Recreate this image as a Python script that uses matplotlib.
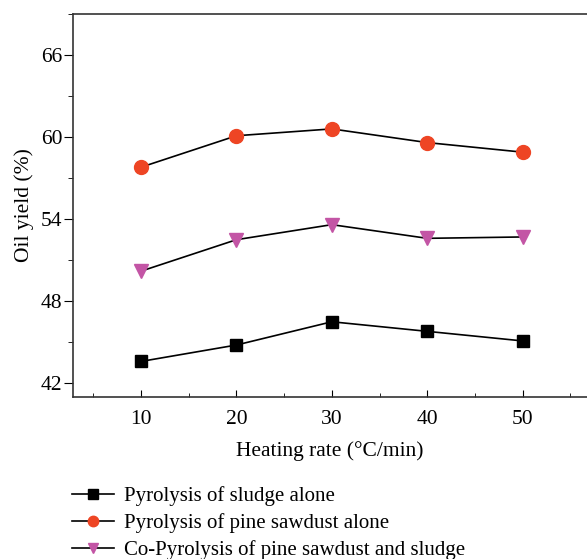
import matplotlib
matplotlib.use("Agg")
import matplotlib.pyplot as plt
from matplotlib.ticker import MultipleLocator

rates = [10, 20, 30, 40, 50]
sludge = [43.6, 44.8, 46.5, 45.8, 45.1]
pine = [57.8, 60.1, 60.6, 59.6, 58.9]
copyro = [50.2, 52.5, 53.6, 52.6, 52.7]
labels = ["Pyrolysis of sludge alone",
          "Pyrolysis of pine sawdust alone",
          "Co-Pyrolysis of pine sawdust and sludge"]
yticks = [42, 48, 54, 60, 66]
xticks = [10, 20, 30, 40, 50]

plt.rcParams['font.family'] = ['Liberation Serif', 'DejaVu Serif']

W, H = 587, 559
fig = plt.figure(figsize=(W / 100, H / 100), dpi=100)
ax = fig.add_axes([73 / W, 1 - 397 / H, (W - 73) / W, (397 - 14) / H])

ax.plot(rates, sludge, '-', color='black', lw=1.2, marker='s', ms=9,
        mfc='black', mec='black', label=labels[0])
ax.plot(rates, pine, '-', color='black', lw=1.2, marker='o', ms=10,
        mfc='#EE4524', mec='#EE4524', label=labels[1])
ax.plot(rates, copyro, '-', color='black', lw=1.2, marker='v', ms=10,
        mfc='#C355A5', mec='#C355A5', label=labels[2])

ax.set_xlim(2.87, 56.75)
ax.set_ylim(41, 69)
ax.set_xticks(xticks)
ax.set_yticks(yticks)
ax.xaxis.set_minor_locator(MultipleLocator(5))
ax.yaxis.set_minor_locator(MultipleLocator(3))
ax.tick_params(axis='x', which='both', direction='in', labelsize=15.5, pad=9)
ax.tick_params(axis='x', which='major', length=5)
ax.tick_params(axis='x', which='minor', length=3)
ax.tick_params(axis='y', which='both', direction='out', labelsize=15.5, pad=1)
ax.tick_params(axis='y', which='major', length=6.5)
ax.tick_params(axis='y', which='minor', length=3.4)
for s in ax.spines.values():
    s.set_linewidth(1.2)
    s.set_color('#333333')
ax.spines['right'].set_visible(False)

ax.set_xlabel("Heating rate (°C/min)", fontsize=15.5, labelpad=9)
ax.set_ylabel("Oil yield (%)", fontsize=15.5, labelpad=5)

leg = fig.legend(loc='upper left', bbox_to_anchor=(72 / W, 1 - 486 / H),
                 frameon=False, fontsize=15, handlelength=2.0,
                 handletextpad=0.5, labelspacing=0.34, borderaxespad=0,
                 borderpad=0, markerscale=0.75)

fig.savefig("out.png", dpi=100)
